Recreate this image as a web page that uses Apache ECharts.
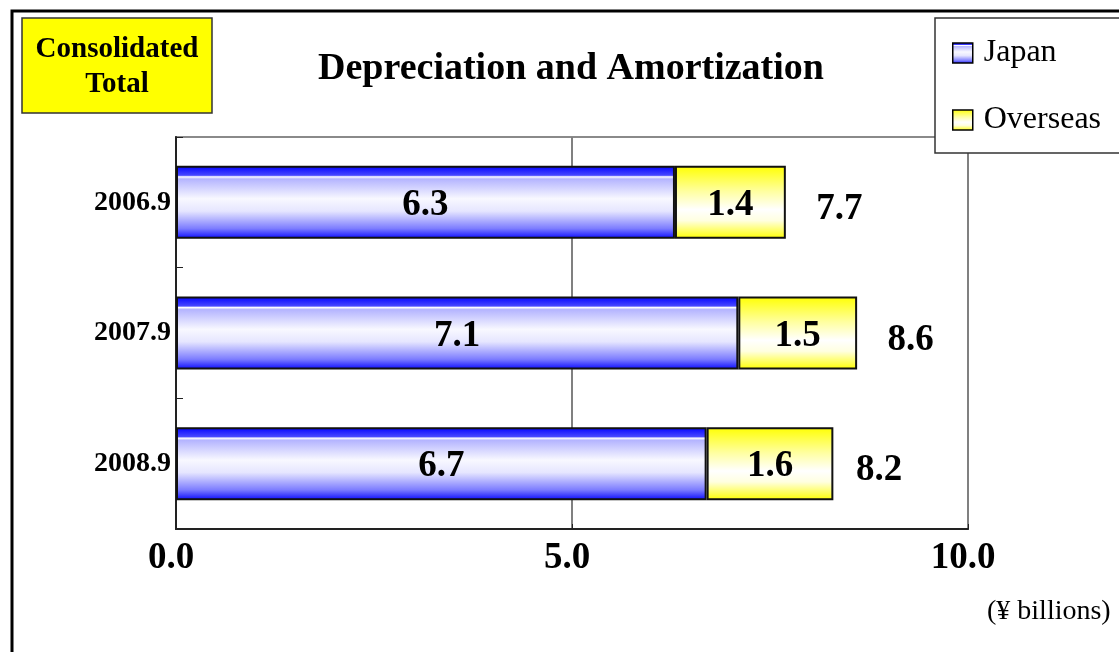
<!DOCTYPE html>
<html>
<head>
<meta charset="utf-8">
<script src="https://cdn.jsdelivr.net/npm/echarts@6/dist/echarts.min.js"></script>
<style>
  html, body { margin: 0; padding: 0; background: #fff; }
  #chart { width: 1119px; height: 652px; }
</style>
</head>
<body>
<div id="chart"></div>
<script>
const categories = ['2006.9', '2007.9', '2008.9']
const japan = [6.3, 7.1, 6.7]
const overseas = [1.4, 1.5, 1.6]
const totals = [7.7, 8.6, 8.2]
const xTicks = [0, 5, 10]

const serif = '"Liberation Serif", "Times New Roman", serif'

// blue tube look, white highlight near top
const japanFill = new echarts.graphic.LinearGradient(0, 0, 0, 1, [
  { offset: 0, color: '#0000ff' },
  { offset: 0.13, color: '#4848ff' },
  { offset: 0.15, color: '#ffffff' },
  { offset: 0.18, color: '#b4b4ff' },
  { offset: 0.45, color: '#f8f8ff' },
  { offset: 0.62, color: '#e6e6ff' },
  { offset: 0.86, color: '#7c7cff' },
  { offset: 1, color: '#0808ff' }
])
const overseasFill = new echarts.graphic.LinearGradient(0, 0, 0, 1, [
  { offset: 0, color: '#ffff00' },
  { offset: 0.35, color: '#ffffa0' },
  { offset: 0.6, color: '#ffffff' },
  { offset: 0.75, color: '#ffffe0' },
  { offset: 1, color: '#ffff00' }
])

const labelFont = { fontFamily: serif, fontSize: 37, fontWeight: 'bold', color: '#000' }

const chart = echarts.init(document.getElementById('chart'))
chart.setOption({
  animation: false,
  textStyle: { fontFamily: serif },
  graphic: [
    {
      type: 'rect', z: 100,
      shape: { x: 12, y: 11, width: 1300, height: 800 },
      style: { fill: 'none', stroke: '#000', lineWidth: 3 }
    },
    {
      type: 'rect', z: 100,
      shape: { x: 22, y: 18, width: 190, height: 95 },
      style: { fill: '#ffff00', stroke: '#333', lineWidth: 1.5 }
    },
    {
      type: 'text', z: 101, x: 117, y: 67,
      style: {
        text: 'Consolidated\nTotal', font: 'bold 29px ' + serif,
        fill: '#000', align: 'center', verticalAlign: 'middle', lineHeight: 35
      }
    },
    {
      type: 'text', z: 101, x: 571, y: 69,
      style: {
        text: 'Depreciation and Amortization', font: 'bold 38px ' + serif,
        fill: '#000', align: 'center', verticalAlign: 'middle'
      }
    },
    {
      type: 'text', z: 101, x: 987, y: 612,
      style: {
        text: '(¥ billions)', font: '28px ' + serif,
        fill: '#000', align: 'left', verticalAlign: 'middle'
      }
    },
    // legend frame, runs off the right edge like the original
    {
      type: 'rect', z: 3,
      shape: { x: 935, y: 18, width: 300, height: 135 },
      style: { fill: '#fff', stroke: '#333', lineWidth: 1.5 }
    }
  ],
  legend: {
    data: ['Japan', 'Overseas'],
    orient: 'vertical',
    left: 935,
    top: 18,
    z: 5,
    padding: [19, 10, 17, 17],
    itemGap: 35,
    itemWidth: 20,
    itemHeight: 20,
    icon: 'rect',
    textStyle: { fontFamily: serif, fontSize: 32, color: '#000', padding: [0, 0, 0, 6] },
    itemStyle: { borderColor: '#000', borderWidth: 1.5 }
  },
  grid: {
    left: 176, right: 151, top: 137, bottom: 123,
    show: true, borderColor: '#8a8a8a', borderWidth: 2
  },
  xAxis: {
    type: 'value',
    min: xTicks[0],
    max: xTicks[xTicks.length - 1],
    interval: 5,
    axisLine: { show: true, lineStyle: { color: '#222', width: 2 } },
    axisTick: { show: true, inside: true, length: 5, lineStyle: { color: '#222' } },
    splitLine: { show: true, lineStyle: { color: '#808080', width: 2 } },
    axisLabel: {
      margin: 11, padding: [0, 10, 0, 0], fontFamily: serif, fontSize: 37, fontWeight: 'bold', color: '#000',
      formatter: v => v.toFixed(1)
    }
  },
  yAxis: {
    type: 'category',
    data: categories,
    inverse: true,
    axisLine: { show: true, lineStyle: { color: '#222', width: 2 } },
    axisTick: { show: true, inside: true, length: 7, lineStyle: { color: '#222' } },
    axisLabel: {
      margin: 5, fontFamily: serif, fontSize: 28, fontWeight: 'bold', color: '#000'
    }
  },
  series: [
    {
      name: 'Japan',
      type: 'bar',
      stack: 'total',
      barWidth: 73,
      data: japan,
      itemStyle: { color: japanFill, borderColor: '#111', borderWidth: 2 },
      label: Object.assign({ show: true, position: 'inside', offset: [0, 3], formatter: p => p.value.toFixed(1) }, labelFont)
    },
    {
      name: 'Overseas',
      type: 'bar',
      stack: 'total',
      barWidth: 73,
      data: overseas,
      itemStyle: { color: overseasFill, borderColor: '#111', borderWidth: 2 },
      label: Object.assign({ show: true, position: 'inside', offset: [0, 3], formatter: p => p.value.toFixed(1) }, labelFont)
    },
    {
      name: 'Total',
      type: 'scatter',
      symbolSize: 1,
      itemStyle: { color: 'rgba(0,0,0,0)', opacity: 1 },
      data: totals.map((t, i) => [t, categories[i]]),
      label: Object.assign({
        show: true, position: 'right', distance: 30, offset: [0, 7],
        formatter: p => p.value[0].toFixed(1)
      }, labelFont)
    }
  ]
})
</script>
</body>
</html>
